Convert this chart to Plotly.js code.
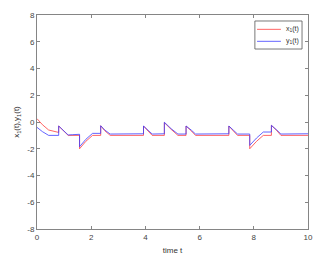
<!DOCTYPE html>
<html><head><meta charset="utf-8">
<script src="https://cdn.plot.ly/plotly-3.0.1.min.js"></script>
<style>html,body{margin:0;padding:0;background:#fff}#c{width:329px;height:260px}</style>
</head><body><div id="c"></div>
<script>
const tX = [0, 0.2, 0.43, 0.8, 0.8, 1.0, 1.15, 1.57, 1.57, 1.8, 2.05, 2.35, 2.35, 2.5, 2.7, 3.93, 3.93, 4.1, 4.25, 4.7, 4.7, 4.95, 5.2, 5.5, 5.5, 5.7, 5.85, 7.08, 7.08, 7.25, 7.4, 7.85, 7.85, 8.1, 8.35, 8.65, 8.65, 8.85, 9.0, 10];
const x1 = [0.25, -0.2, -0.6, -0.78, -0.3, -0.68, -1, -1, -2, -1.45, -1, -1, -0.28, -0.65, -1, -1, -0.3, -0.68, -1, -1, -0.05, -0.55, -1, -1, -0.3, -0.68, -1, -1, -0.3, -0.68, -1, -1, -2, -1.45, -1, -1, -0.25, -0.65, -1, -1];
const tY = [0, 0.2, 0.43, 0.8, 0.8, 1.0, 1.15, 1.3, 1.57, 1.57, 1.8, 2.05, 2.35, 2.35, 2.5, 2.7, 3.93, 3.93, 4.1, 4.25, 4.7, 4.7, 4.95, 5.2, 5.5, 5.5, 5.7, 5.85, 7.08, 7.08, 7.25, 7.4, 7.85, 7.85, 8.1, 8.35, 8.65, 8.65, 8.85, 9.0, 10];
const y1 = [-0.4, -0.72, -1, -1, -0.3, -0.68, -0.97, -0.95, -0.92, -1.85, -1.3, -0.85, -0.85, -0.28, -0.6, -0.9, -0.88, -0.3, -0.62, -0.9, -0.88, -0.02, -0.5, -0.9, -0.9, -0.3, -0.62, -0.9, -0.88, -0.3, -0.62, -0.9, -0.9, -1.75, -1.2, -0.75, -0.75, -0.25, -0.6, -0.9, -0.88];
const xTicks = [0, 2, 4, 6, 8, 10];
const yTicks = [-8, -6, -4, -2, 0, 2, 4, 6, 8];
const seriesNames = ['x<sub>1</sub>(t)', 'y<sub>1</sub>(t)'];
const seriesColors = ['rgb(255,60,60)', 'rgb(60,60,255)'];

const FONT = 'Liberation Sans, Arial, sans-serif';
const axisCommon = {
  showgrid: false, zeroline: false, showline: true, mirror: 'ticks',
  linecolor: '#858585', linewidth: 1, ticks: 'inside', ticklen: 3, tickcolor: '#858585',
  tickfont: {family: FONT, size: 8, color: '#444'}
};
const data = [
  {x: tX, y: x1, type: 'scatter', mode: 'lines', name: seriesNames[0], line: {color: seriesColors[0], width: 0.8}},
  {x: tY, y: y1, type: 'scatter', mode: 'lines', name: seriesNames[1], line: {color: seriesColors[1], width: 0.8}}
];
// custom compact legend (paper coordinates)
const lg = {x0: 0.804, x1: 0.978, y0: 0.841, y1: 0.972};
const rows = [0.933, 0.877];
const shapes = [{type: 'rect', xref: 'paper', yref: 'paper', x0: lg.x0, x1: lg.x1, y0: lg.y0, y1: lg.y1,
  line: {color: '#555', width: 0.8}, fillcolor: '#fff'}];
const annotations = [];
rows.forEach((ry, i) => {
  shapes.push({type: 'line', xref: 'paper', yref: 'paper', x0: 0.812, x1: 0.900, y0: ry, y1: ry,
    line: {color: seriesColors[i], width: 0.8}});
  annotations.push({xref: 'paper', yref: 'paper', x: 0.912, y: ry, xanchor: 'left', yanchor: 'middle',
    text: seriesNames[i], showarrow: false, font: {family: FONT, size: 7, color: '#333'}});
});
const layout = {
  width: 329, height: 260,
  margin: {l: 37, r: 21, t: 15, b: 31},
  paper_bgcolor: '#fff', plot_bgcolor: '#fff',
  showlegend: false, shapes: shapes, annotations: annotations,
  xaxis: Object.assign({}, axisCommon, {range: [0, 10], tickvals: xTicks, ticktext: xTicks.map(String),
    title: {text: 'time t', standoff: 6, font: {family: FONT, size: 8, color: '#333'}}}),
  yaxis: Object.assign({}, axisCommon, {range: [-8, 8], tickvals: yTicks, ticktext: yTicks.map(String),
    title: {text: 'x<sub>1</sub>(t),y<sub>1</sub>(t)', standoff: 6, font: {family: FONT, size: 8, color: '#333'}}})
};
Plotly.newPlot('c', data, layout, {displayModeBar: false, staticPlot: true});
</script></body></html>
